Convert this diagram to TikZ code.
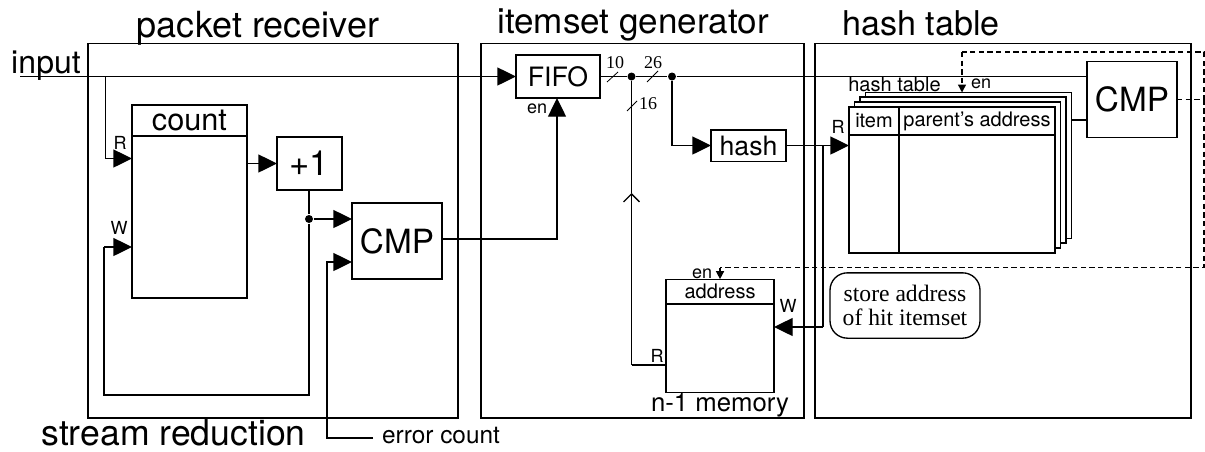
\documentclass[tikz,border=0pt]{standalone}
\usepackage{fontspec}
\setmainfont{TeX Gyre Heros}
\newfontfamily\serifnum{Liberation Serif}
\usetikzlibrary{positioning, arrows.meta, calc}
\newcommand{\fsz}[1]{\fontsize{#1pt}{#1pt}\selectfont}

\begin{document}
\begin{tikzpicture}[
  x=0.75pt, y=-0.75pt,
  line width=1pt,
  box/.style={draw, inner sep=0pt, outer sep=0pt, align=center},
  frame/.style={box},
  sheet/.style={box, fill=white, minimum width=154.5pt, minimum height=109.5pt},
  lbl/.style={inner sep=0pt, outer sep=0pt, anchor=base},
  title/.style={lbl, font=\fsz{27}},
  port/.style={lbl, font=\fsz{13.5}},
  num/.style={lbl, font=\serifnum\fsz{13.5}},
  ar/.style={-{Triangle[length=14pt, width=13.5pt]}},
  sm/.style={-{Triangle[length=6pt, width=6pt]}, dashed, dash pattern=on 4pt off 2.5pt},
  ctl/.style={dashed, dash pattern=on 4pt off 2.5pt},
  barb/.style={-{Straight Barb[length=6pt, width=12pt]}},
  dot/.style={circle, fill=black, inner sep=0pt, minimum size=6pt},
]
  \useasboundingbox (0,0) rectangle (1205,451);

  % the three blocks
  \node[frame, minimum width=277.5pt, minimum height=281pt] (recv) at (273,230.5) {};
  \node[frame, minimum width=242.25pt, minimum height=281pt] (gen) at (642.5,230.5) {};
  \node[frame, minimum width=282pt, minimum height=281pt] (tbl) at (1003,230.5) {};
  \node[title] (recvname) at (258,37) {packet receiver};
  \node[title, font=\fsz{26.3}] (genname) at (633,33) {itemset generator};
  \node[title, font=\fsz{25.6}] (tblname) at (921,35) {hash table};
  \node[title, font=\fsz{26.7}] (streamname) at (173.5,445) {stream reduction};

  % packet receiver
  \node[lbl, font=\fsz{24}] (input) at (46,73) {input};
  \node[box, minimum width=86.25pt, minimum height=144.75pt] (count) at (189.5,201.5) {};
  \node[box, minimum width=86.25pt, minimum height=23.25pt, font=\fsz{23}] (counthead) at (189.5,120.5) {count};
  \node[box, minimum width=48.75pt, minimum height=39.75pt, font=\fsz{26}] (inc) at (309.5,163.5) {+1};
  \node[box, minimum width=67.5pt, minimum height=57pt, font=\fsz{25}] (cmpa) at (397,241) {CMP};
  \node[port] (rcount) at (120,149) {R};
  \node[port] (wcount) at (119,234) {W};
  \node[dot] (incdot) at (309,219) {};
  \node[lbl, font=\fsz{18.3}] (err) at (441,443) {error count};

  % itemset generator
  \node[box, minimum width=63pt, minimum height=32.25pt, font=\fsz{20}] (fifo) at (558,76.5) {FIFO};
  \node[port] (enfifo) at (537,113) {en};
  \node[dot] (split) at (631.5,76.5) {};
  \node[dot] (tap) at (672,76.5) {};
  \node[num] (ten) at (615,68) {10};
  \node[num] (twosix) at (653,68) {26};
  \node[num] (onesix) at (648,109) {16};
  \node[box, minimum width=56.25pt, minimum height=23.5pt, font=\fsz{20}] (hash) at (748.5,145.5) {hash};
  \node[box, minimum width=81pt, minimum height=85pt] (mem) at (720,336) {};
  \node[box, minimum width=81pt, minimum height=18.5pt, font=\fsz{15}] (memhead) at (720,291.5) {address};
  \node[lbl, font=\fsz{19.3}] (memname) at (720,411) {n-1 memory};
  \node[port] (rmem) at (657,362) {R};
  \node[port] (wmem) at (788,312) {W};
  \node[port] (enmem) at (702,278) {en};

  % hash table, back sheet first
  \node[sheet] (sheetd) at (968.5,165.5) {};
  \node[sheet] (sheetc) at (963,170) {};
  \node[sheet] (sheetb) at (957.5,175) {};
  \node[sheet] (sheeta) at (952,180) {};
  \node[box, minimum width=37.5pt, minimum height=21pt, font=\fsz{15}] (itemhead) at (874,121) {item};
  \node[box, minimum width=117pt, minimum height=21pt, font=\fsz{15}] (addrhead) at (977,121) {parent's address};
  \node[box, minimum width=37.5pt, minimum height=88.5pt] (itemcol) at (874,194) {};
  \node[lbl, font=\fsz{15}] (sheetname) at (894.5,91) {hash table};
  \node[port] (rtbl) at (838,133) {R};
  \node[port] (entbl) at (981,88) {en};
  \node[box, minimum width=67.5pt, minimum height=57pt, font=\fsz{25}] (cmpb) at (1132,99.5) {CMP};
  \node[box, rounded corners=13pt, minimum width=112.5pt, minimum height=49pt, font=\serifnum\fsz{17.7}] (note) at (905,305.5) {store address\\of hit itemset};

  % points the connectors turn at
  \coordinate (instart) at (20,76.5);
  \coordinate (inbranch) at (105.5,76.5);
  \coordinate (rturn) at (105.5,158.5);
  \coordinate (rend) at (count.west |- rturn);
  \coordinate (wturn) at (104,247);
  \coordinate (wend) at (count.west |- wturn);
  \coordinate (loopa) at (309,395);
  \coordinate (loopb) at (104,395);
  \coordinate (errturn) at (327,438);
  \coordinate (errin) at (327,262);
  \coordinate (erryy) at (373,438);
  \coordinate (fifoturn) at (557,239);
  \coordinate (chev) at (631.5,193);
  \coordinate (rmemturn) at (631.5,365);
  \coordinate (tapturn) at (672,145.5);
  \coordinate (wturna) at (823,145.5);
  \coordinate (wturnb) at (823,327);
  \coordinate (dasha) at (1204,99.5);
  \coordinate (dashb) at (1204,52);
  \coordinate (dashc) at (962,52);
  \coordinate (dashd) at (1204,267.5);
  \coordinate (dashe) at (720,267.5);

  \draw (instart) -- (inbranch);
  \draw[ar] (inbranch) -- (fifo.west);
  \draw[ar] (inbranch) -- (rturn) -- (rend);
  \draw[ar] (counthead.east |- inc.west) -- (inc.west);
  \draw (inc.south -| incdot) -- (incdot) -- (loopa) -- (loopb) -- (wturn);
  \draw[ar] (wturn) -- (wend);
  \draw[ar] (incdot) -- (cmpa.west |- incdot);
  \draw[ar] (erryy) -- (errturn) -- (errin) -- (cmpa.west |- errin);
  \draw[ar] (cmpa.east |- fifoturn) -- (fifoturn) -- (fifoturn |- fifo.south);

  \draw (fifo.east) -- (split) -- (tap) -- (cmpb.west |- tap);
  \draw (split) -- (chev);
  \draw[barb] (rmemturn) -- (chev);
  \draw (mem.west |- rmemturn) -- (rmemturn);
  \draw[ar] (tap) -- (tapturn) -- (hash.west);
  \draw[ar] (hash.east) -- (sheeta.west |- hash.east);
  \draw (wturna) -- (wturnb);
  \draw[ar] (wturnb) -- (mem.east |- wturnb);

  % bus width ticks
  \draw[line width=0.6pt] (607,82) -- (618,72);
  \draw[line width=0.6pt] (647,82) -- (658,71);
  \draw[line width=0.6pt] (627,111) -- (637,101);

  \draw (sheetd.east |- 0,120) -- (cmpb.west |- 0,120);
  \draw[ctl] (cmpb.east |- dasha) -- (dasha) -- (dashb) -- (dashc);
  \draw[sm] (dashc) -- (dashc |- sheetd.north);
  \draw[ctl] (dasha) -- (dashd) -- (dashe);
  \draw[sm] (dashe) -- (memhead.north);
\end{tikzpicture}
\end{document}
